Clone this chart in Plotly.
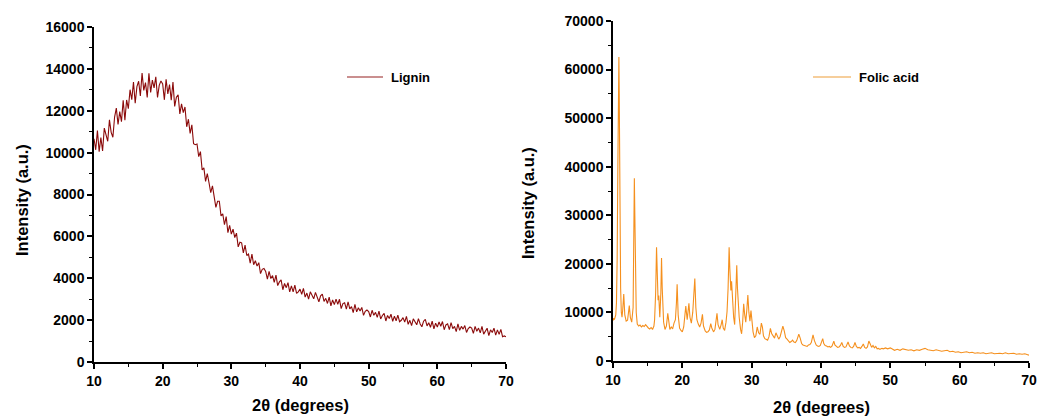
import numpy as np
import plotly.graph_objects as go

# ---------------- data ----------------
# Lignin: 2-theta from 10 to 70 in 0.25 degree steps
lignin_x = np.arange(10.0, 70.0001, 0.25)
lignin_y = [
    10660, 10135, 11050, 10045,
    10720, 10075, 11170, 10885,
    10540, 11565, 10970, 10735,
    11700, 12125, 11350, 11955,
    11480, 12505, 11550, 12515,
    12100, 13005, 12530, 13375,
    12360, 13155, 13410, 12705,
    13800, 12972, 13345, 12638,
    13790, 12878, 13465, 13092,
    13620, 12635, 13210, 13425,
    13280, 12522, 13505, 12808,
    13250, 12502, 13375, 12208,
    12645, 12765, 11850, 12330,
    11910, 12180, 11235, 11595,
    10920, 11325, 10425, 10380,
    10410, 9810, 10050, 9170,
    9270, 8625, 8995, 8560,
    8090, 8415, 7795, 7385,
    7675, 7675, 6975, 7080,
    6555, 6942, 6175, 6528,
    6110, 6349, 5944, 6155,
    5498, 5722, 5693, 5216,
    5580, 5088, 5156, 4720,
    5152, 4644, 4837, 4582,
    4746, 4223, 4428, 4465,
    4325, 3963, 4325, 3987,
    4125, 3800, 4150, 3650,
    3825, 3925, 3450, 3750,
    3550, 3787, 3350, 3638,
    3350, 3675, 3275, 3350,
    3482, 3237, 3520, 3099,
    3294, 3005, 3354, 3197,
    3018, 3323, 3034, 2877,
    3160, 3245, 2890, 3041,
    2796, 3101, 2680, 2963,
    2740, 3001, 2756, 2995,
    2552, 2791, 2832, 2521,
    2870, 2537, 2644, 2355,
    2748, 2393, 2588, 2431,
    2604, 2227, 2422, 2485,
    2410, 2150, 2470, 2230,
    2370, 2132, 2435, 2058,
    2220, 2320, 1960, 2220,
    2080, 2282, 1945, 2188,
    1970, 2238, 1925, 1992,
    2120, 1908, 2175, 1802,
    1990, 1738, 2065, 1932,
    1780, 2068, 1815, 1682,
    1950, 2038, 1725, 1872,
    1660, 1952, 1585, 1858,
    1670, 1918, 1705, 1932,
    1540, 1770, 1820, 1550,
    1880, 1590, 1700, 1450,
    1820, 1510, 1700, 1570,
    1740, 1410, 1600, 1670,
    1620, 1370, 1700, 1470,
    1620, 1390, 1700, 1330,
    1500, 1612, 1265, 1538,
    1410, 1618, 1285, 1532,
    1320, 1555, 1210, 1245,
    1200,
]

# Folic acid
folic_x = [
    10.0, 10.1, 10.2, 10.3, 10.4, 10.5, 10.6, 10.7, 10.8, 10.85, 10.9, 11.0,
    11.1, 11.2, 11.3, 11.4, 11.55, 11.7, 11.9, 12.1, 12.35, 12.5, 12.7, 12.9,
    13.0, 13.08, 13.15, 13.25, 13.35, 13.5, 13.7, 13.9, 14.1, 14.3, 14.5, 14.7,
    14.9, 15.1, 15.3, 15.5, 15.7, 15.9, 16.0, 16.15, 16.28, 16.4, 16.5, 16.6,
    16.75, 16.9, 17.0, 17.1, 17.2, 17.3, 17.5, 17.7, 17.9, 18.05, 18.2, 18.4,
    18.6, 18.8, 19.0, 19.15, 19.25, 19.4, 19.6, 19.8, 20.0, 20.2, 20.4, 20.5,
    20.7, 20.95, 21.1, 21.3, 21.5, 21.7, 21.8, 21.95, 22.1, 22.3, 22.5, 22.7,
    22.9, 23.05, 23.3, 23.5, 23.7, 23.9, 24.1, 24.25, 24.5, 24.7, 24.85, 25.0,
    25.15, 25.4, 25.6, 25.75, 25.9, 26.1, 26.3, 26.45, 26.6, 26.75, 26.85, 27.0,
    27.1, 27.25, 27.4, 27.55, 27.7, 27.85, 27.95, 28.05, 28.2, 28.4, 28.55, 28.7,
    28.85, 29.0, 29.15, 29.3, 29.45, 29.6, 29.75, 29.9, 30.05, 30.2, 30.4, 30.6,
    30.8, 31.0, 31.2, 31.4, 31.55, 31.7, 31.9, 32.1, 32.3, 32.5, 32.7, 32.9,
    33.1, 33.3, 33.5, 33.7, 33.9, 34.1, 34.3, 34.5, 34.7, 34.9, 35.1, 35.3,
    35.5, 35.7, 35.9, 36.1, 36.3, 36.5, 36.8, 37.0, 37.2, 37.4, 37.6, 37.8,
    38.0, 38.2, 38.4, 38.6, 38.85, 39.05, 39.3, 39.5, 39.7, 39.9, 40.1, 40.25,
    40.4, 40.6, 40.8, 41.0, 41.2, 41.4, 41.6, 41.85, 42.0, 42.2, 42.4, 42.6,
    42.8, 43.0, 43.2, 43.4, 43.6, 43.9, 44.1, 44.3, 44.5, 44.7, 44.9, 45.1,
    45.3, 45.5, 45.7, 45.9, 46.1, 46.3, 46.5, 46.7, 46.9, 47.1, 47.3, 47.5,
    47.7, 47.9, 48.1, 48.3, 48.5, 48.8, 49.0, 49.3, 49.6, 50.0, 50.3, 50.6,
    51.0, 51.4, 51.8, 52.2, 52.6, 53.0, 53.4, 53.8, 54.2, 54.6, 55.0, 55.4,
    55.8, 56.2, 56.6, 57.0, 57.4, 57.8, 58.2, 58.6, 59.0, 59.4, 59.8, 60.2,
    60.6, 61.0, 61.4, 61.8, 62.2, 62.6, 63.0, 63.4, 63.8, 64.2, 64.6, 65.0,
    65.4, 65.8, 66.2, 66.6, 67.0, 67.4, 67.8, 68.2, 68.6, 69.0, 69.4, 69.8,
    70.0,
]
folic_y = [
    8300, 8800, 8500, 9000, 9500, 12000, 21000, 40000, 57500, 62600, 55000, 30000,
    15000, 10000, 9000, 10500, 13800, 9500, 8200, 8400, 11400, 9000, 8000, 11000,
    25000, 37600, 30000, 20000, 10000, 7600, 7200, 7400, 7000, 7300, 7100, 7500,
    7000, 6800, 6600, 6900, 6500, 7200, 8500, 14000, 23400, 15000, 12500, 13500,
    9000, 14000, 21200, 15000, 11000, 8000, 6500, 7200, 9800, 7500, 6500, 7000,
    6600, 7800, 8500, 12000, 15800, 9500, 6800, 6300, 6000, 7000, 9500, 11300,
    8500, 11900, 9000, 7800, 10000, 15500, 17000, 11000, 8500, 7600, 7000, 7800,
    9600, 7200, 6200, 5900, 6000, 6400, 7700, 6800, 6000, 6500, 8200, 9800,
    7500, 6500, 7500, 8500, 6800, 6300, 8000, 10200, 15000, 23400, 19000, 14500,
    16400, 12000, 9000, 7500, 12000, 19700, 15000, 11000, 9000, 6500, 5600, 8000,
    11800, 9500, 8000, 10500, 13600, 10000, 8200, 10400, 8000, 6000, 4800, 5200,
    7000, 5800, 5500, 7800, 7000, 5200, 4600, 4400, 4300, 5000, 6700, 5600,
    5000, 4700, 5800, 5200, 4500, 5000, 6000, 7200, 6200, 4800, 4500, 4000,
    3800, 4000, 4300, 3900, 3800, 4200, 5500, 4700, 3600, 3300, 3200, 3100,
    3000, 3300, 3400, 3800, 5400, 4200, 3300, 3100, 3000, 3200, 3800, 4600,
    3600, 3200, 3100, 2900, 3000, 2800, 3100, 4100, 3300, 3000, 2800, 2900,
    3200, 3800, 3000, 2800, 2900, 3900, 3100, 2800, 2700, 3000, 3800, 3000,
    2700, 2800, 2600, 3000, 3500, 2800, 2600, 2900, 4100, 3500, 2800, 3200,
    2700, 3000, 2500, 2600, 2400, 2600, 2500, 2700, 2500, 2700, 2500, 2200,
    2400, 2200, 2500, 2400, 2200, 2300, 2100, 2300, 2200, 2400, 2600, 2300,
    2200, 2100, 2300, 2200, 2000, 2100, 2200, 1900, 2000, 1800, 1900, 1700,
    1800, 1900, 1700, 1800, 1600, 1700, 1600, 1700, 1500, 1600, 1700, 1500,
    1600, 1600, 1500, 1700, 1500, 1500, 1600, 1400, 1500, 1400, 1500, 1300,
    1200,
]

x_ticks = [10, 20, 30, 40, 50, 60, 70]
lignin_y_ticks = [0, 2000, 4000, 6000, 8000, 10000, 12000, 14000, 16000]
folic_y_ticks = [0, 10000, 20000, 30000, 40000, 50000, 60000, 70000]

assert len(lignin_x) == len(lignin_y)
assert len(folic_x) == len(folic_y)

W, H = 1039, 416
FONT = "Liberation Sans, Arial, sans-serif"
LIGNIN_COLOR = "#8B0A0A"
FOLIC_COLOR = "#F5901E"

fig = go.Figure()
fig.add_trace(go.Scatter(x=lignin_x, y=lignin_y, mode="lines", name="Lignin",
                         line=dict(color=LIGNIN_COLOR, width=1.1),
                         xaxis="x", yaxis="y", showlegend=False))
fig.add_trace(go.Scatter(x=folic_x, y=folic_y, mode="lines", name="Folic acid",
                         line=dict(color=FOLIC_COLOR, width=1.1),
                         xaxis="x2", yaxis="y2", showlegend=False))


def px_x(p):
    return p / W


def px_y(p):
    return 1 - p / H


tickfont = dict(family=FONT, size=14, color="black", weight="bold")
common_axis = dict(showline=True, linecolor="black", linewidth=1.5, showgrid=False,
                   zeroline=False, ticks="outside", ticklen=5, tickwidth=1.5,
                   tickcolor="black", tickfont=tickfont, tickformat="d",
                   automargin=False)
minor_common = dict(ticklen=3, tickwidth=1.2, tickcolor="black", ticks="outside")

fig.update_layout(
    width=W, height=H,
    margin=dict(l=0, r=0, t=0, b=0),
    paper_bgcolor="white", plot_bgcolor="white",
    showlegend=False,
    xaxis=dict(domain=[px_x(94), px_x(506)], range=[10, 70], tickvals=x_ticks,
               minor=dict(dtick=5, **minor_common), anchor="y", **common_axis),
    yaxis=dict(domain=[px_y(362), px_y(27)], range=[0, 16000], tickvals=lignin_y_ticks,
               minor=dict(dtick=1000, **minor_common), anchor="x", **common_axis),
    xaxis2=dict(domain=[px_x(613), px_x(1029)], range=[10, 70], tickvals=x_ticks,
                minor=dict(dtick=5, **minor_common), anchor="y2", **common_axis),
    yaxis2=dict(domain=[px_y(361), px_y(21)], range=[0, 70000], tickvals=folic_y_ticks,
                minor=dict(dtick=5000, **minor_common), anchor="x2", **common_axis),
)

# legend keys (line sample + label) for each panel
legend_font = dict(family=FONT, size=13, color="black", weight="bold")
for (x0, x1, yy, color, label) in [(347, 383, 77, "#B96A6A", "Lignin"),
                                    (813, 851, 77, "#F3BE7A", "Folic acid")]:
    fig.add_shape(type="line", xref="paper", yref="paper",
                  x0=px_x(x0), x1=px_x(x1), y0=px_y(yy), y1=px_y(yy),
                  line=dict(color=color, width=1.5))
    fig.add_annotation(xref="paper", yref="paper", x=px_x(x1 + 6), y=px_y(yy),
                       xanchor="left", yanchor="middle", showarrow=False,
                       text=label, font=legend_font)

title_font = dict(family=FONT, size=16.5, color="black", weight="bold")
annotations = [
    dict(text="2θ (degrees)", x=px_x(300), y=px_y(405)),
    dict(text="2θ (degrees)", x=px_x(821), y=px_y(407)),
    dict(text="Intensity (a.u.)", x=px_x(22), y=px_y(200), textangle=-90),
    dict(text="Intensity (a.u.)", x=px_x(528), y=px_y(203), textangle=-90),
]
for a in annotations:
    fig.add_annotation(xref="paper", yref="paper", showarrow=False,
                       xanchor="center", yanchor="middle", font=title_font, **a)

fig.write_html("out.html")
